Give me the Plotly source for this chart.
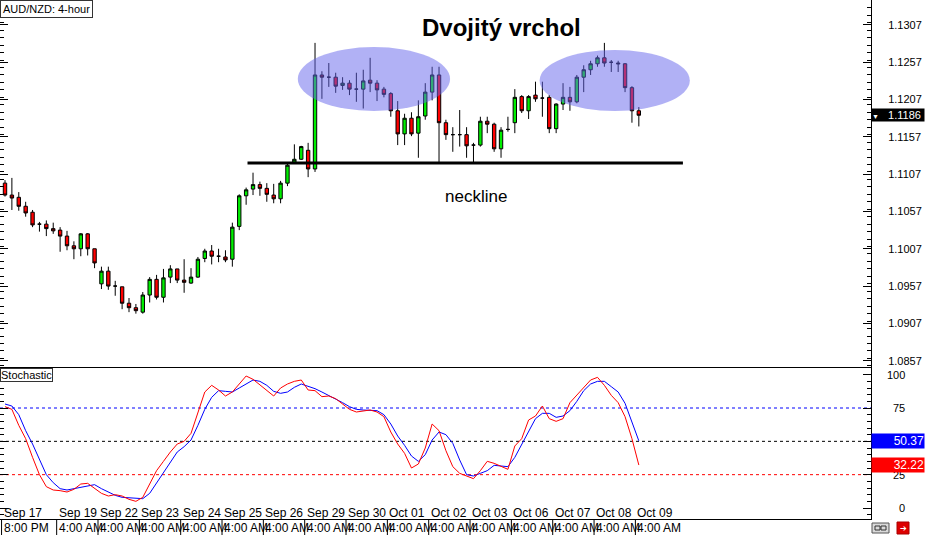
import plotly.graph_objects as go

# ---------------- data ----------------
idx = list(range(93))
open_ = [1.1095,1.1079,1.1076,1.1064,1.1056,1.1040,1.1040,1.1034,1.1032,1.1024,
         1.1011,1.1007,1.1027,1.1007,1.0960,1.0977,1.0957,1.0956,1.0934,1.0928,
         1.0922,1.0945,1.0966,1.0942,1.0969,1.0980,1.0965,1.0961,1.0969,1.0994,
         1.1004,1.0997,1.0996,1.0993,1.1037,1.1078,1.1087,1.1093,1.1088,1.1079,
         1.1074,1.1095,1.1123,1.1127,1.1139,1.1114,1.1240,1.1237,1.1237,1.1226,
         1.1229,1.1221,1.1221,1.1233,1.1229,1.1221,1.1215,1.1192,1.1161,1.1182,
         1.1162,1.1185,1.1217,1.1240,1.1176,1.1160,1.1160,1.1160,1.1146,1.1146,
         1.1178,1.1174,1.1141,1.1167,1.1176,1.1211,1.1192,1.1213,1.1209,1.1210,
         1.1168,1.1201,1.1210,1.1204,1.1237,1.1247,1.1255,1.1263,1.1257,1.1256,
         1.1255,1.1223,1.1192]
high = [1.1099,1.1102,1.1083,1.1070,1.1059,1.1043,1.1045,1.1042,1.1036,1.1031,
        1.1017,1.1028,1.1028,1.1007,1.0983,1.0983,1.0964,1.0956,1.0941,1.0933,
        1.0949,1.0969,1.0972,1.0980,1.0985,1.0980,1.0993,1.0981,1.0996,1.1007,
        1.1012,1.1007,1.1005,1.1042,1.1080,1.1089,1.1109,1.1097,1.1095,1.1094,
        1.1098,1.1121,1.1147,1.1145,1.1149,1.1283,1.1245,1.1256,1.1243,1.1237,
        1.1233,1.1243,1.1247,1.1263,1.1233,1.1224,1.1217,1.1205,1.1188,1.1190,
        1.1206,1.1229,1.1251,1.1251,1.1180,1.1170,1.1193,1.1170,1.1149,1.1184,
        1.1184,1.1176,1.1170,1.1184,1.1221,1.1213,1.1213,1.1231,1.1231,1.1213,
        1.1202,1.1229,1.1224,1.1240,1.1253,1.1259,1.1266,1.1283,1.1260,1.1259,
        1.1256,1.1225,1.1197]
low = [1.1077,1.1059,1.1058,1.1050,1.1036,1.1030,1.1024,1.1027,1.1003,1.1005,
       1.0993,1.0997,1.0998,1.0981,1.0953,1.0952,1.0944,1.0926,1.0922,1.0920,
       1.0920,1.0935,1.0939,1.0935,1.0961,1.0961,1.0948,1.0960,1.0968,1.0989,
       1.0986,1.0989,1.0989,1.0983,1.1032,1.1066,1.1079,1.1078,1.1070,1.1068,
       1.1068,1.1091,1.1122,1.1126,1.1103,1.1110,1.1208,1.1224,1.1216,1.1220,
       1.1213,1.1204,1.1195,1.1217,1.1205,1.1210,1.1184,1.1146,1.1146,1.1158,
       1.1129,1.1180,1.1206,1.1122,1.1153,1.1137,1.1144,1.1129,1.1122,1.1144,
       1.1162,1.1137,1.1129,1.1164,1.1162,1.1189,1.1181,1.1204,1.1184,1.1162,
       1.1162,1.1193,1.1192,1.1202,1.1217,1.1240,1.1251,1.1251,1.1244,1.1244,
       1.1217,1.1176,1.1171]
close = [1.1079,1.1075,1.1064,1.1055,1.1039,1.1040,1.1034,1.1031,1.1024,1.1011,
         1.1007,1.1027,1.1007,1.0988,1.0977,1.0957,1.0957,1.0934,1.0928,1.0924,
         1.0945,1.0966,1.0942,1.0968,1.0980,1.0965,1.0962,1.0969,1.0993,1.1004,
         1.0997,1.0997,1.0992,1.1036,1.1078,1.1086,1.1093,1.1088,1.1080,1.1074,
         1.1095,1.1119,1.1127,1.1144,1.1114,1.1240,1.1237,1.1237,1.1225,1.1229,
         1.1221,1.1221,1.1232,1.1229,1.1220,1.1214,1.1192,1.1161,1.1182,1.1161,
         1.1184,1.1217,1.1240,1.1176,1.1160,1.1160,1.1160,1.1145,1.1146,1.1178,
         1.1174,1.1141,1.1166,1.1167,1.1210,1.1192,1.1211,1.1208,1.1209,1.1168,
         1.1201,1.1210,1.1204,1.1237,1.1247,1.1255,1.1263,1.1256,1.1257,1.1255,
         1.1223,1.1192,1.1186]

stoch_k = [76,74,62,52,38,25,16,13.5,13,12,14,18,18.5,15,11,9,10,9,6.5,5,
           8,18,28,35,42,48,50,56,72,87,92,88.5,84,87,93,99,96.5,92.5,88.5,84,
           90,93,95,96,88.5,88,83.5,84,82,78,74,72,73,73.5,72,68.5,57,48,41,30,
           33,45,63,58,43,31,26,24,22,28,35,33.5,31,29,46.5,52,66,69,76.5,67,
           65,67,79,84.5,90,96,98,92,84.5,79,68.5,52,32.22]
stoch_d = [78,76.5,70,58,48,36,25,19,14.5,13.5,14.5,16,17,17.5,14.5,12,9.5,8,7.5,7,
           7,11,19,27,35,42,46,51,62,74,83,88,87.5,87,90,93,96,95,92,87.5,
           86,87,90.5,93,91.5,89.5,87,84.5,82,79,76,74,73.5,73.5,73,70,63,54,47,39,
           35,40,51,57,55,48.5,36,25,24,26,28,32,31.5,31,38,48,58,67,71,71,
           68,69,73,80,88,93,95,95,91,87,78.5,65,50.37]

label_idx = [0, 8, 14, 20, 26, 32, 38, 44, 50, 56, 62, 68, 74, 80, 86, 92]
date_labels = ["Sep 17", "Sep 19", "Sep 22", "Sep 23", "Sep 24", "Sep 25", "Sep 26",
               "Sep 29", "Sep 30", "Oct 01", "Oct 02", "Oct 03", "Oct 06", "Oct 07",
               "Oct 08", "Oct 09"]
time_labels = ["8:00 PM"] + ["4:00 AM"] * 15

stoch_levels = [75, 50, 25]
stoch_level_colors = ["#0000ff", "#000000", "#ff0000"]
stoch_axis_labels = [100, 75, 50, 25, 0]

neckline_level = 1.1122
last_price = close[-1]

# ---------------- geometry helpers ----------------
PLOT_W, PLOT_H = 871, 519
def px_x(x):
    return x / PLOT_W
def px_y(y):
    return (PLOT_H - y) / PLOT_H

FONT = "Liberation Sans, Arial, sans-serif"

fig = go.Figure()
fig.add_trace(go.Candlestick(
    x=idx, open=open_, high=high, low=low, close=close,
    increasing=dict(line=dict(color="black", width=1), fillcolor="#00ee00"),
    decreasing=dict(line=dict(color="black", width=1), fillcolor="#ff0000"),
    xaxis="x", yaxis="y", showlegend=False, hoverinfo="skip"))
fig.add_trace(go.Scatter(x=idx, y=stoch_d, mode="lines",
                         line=dict(color="#0000ff", width=1),
                         xaxis="x2", yaxis="y2", showlegend=False, hoverinfo="skip"))
fig.add_trace(go.Scatter(x=idx, y=stoch_k, mode="lines",
                         line=dict(color="#ff0000", width=1),
                         xaxis="x2", yaxis="y2", showlegend=False, hoverinfo="skip"))

xr = [-0.726, 125.7]
shapes = []
annotations = []

# stochastic levels
for lv, c in zip(stoch_levels, stoch_level_colors):
    shapes.append(dict(type="line", xref="paper", x0=0, x1=1, yref="y2", y0=lv, y1=lv,
                       line=dict(color=c, width=1, dash="3px,3px"), layer="below"))

# ellipses (highlighting the two tops)
ell_color = "rgb(100,100,235)"
shapes.append(dict(type="circle", xref="x", yref="y", x0=42.5, x1=64.6, y0=1.11917, y1=1.12775,
                   fillcolor=ell_color, opacity=0.5, line=dict(width=0), layer="above"))
shapes.append(dict(type="circle", xref="x", yref="y", x0=77.6, x1=99.4, y0=1.11917, y1=1.12735,
                   fillcolor=ell_color, opacity=0.5, line=dict(width=0), layer="above"))
# neckline
shapes.append(dict(type="line", xref="x", yref="y", x0=35.2, x1=98.4,
                   y0=neckline_level, y1=neckline_level,
                   line=dict(color="black", width=3), layer="above"))

# bottom time axis ticks and labels
for i, d, t in zip(label_idx, date_labels, time_labels):
    shapes.append(dict(type="line", xref="x", yref="paper", x0=i - 0.5, x1=i - 0.5,
                       y0=px_y(535), y1=px_y(519), line=dict(color="black", width=1)))
    annotations.append(dict(text=d, xref="x", yref="paper", x=i - 0.5, y=px_y(513),
                            xanchor="left", yanchor="middle", showarrow=False,
                            font=dict(family=FONT, size=12, color="black")))
    annotations.append(dict(text=t, xref="x", yref="paper", x=i - 0.5, y=px_y(528),
                            xanchor="left", yanchor="middle", showarrow=False,
                            font=dict(family=FONT, size=12, color="black")))

# stochastic axis labels
for v in stoch_axis_labels:
    annotations.append(dict(text=str(v), xref="paper", yref="y2", x=px_x(907), y=v,
                            xanchor="right", yanchor="middle", showarrow=False,
                            font=dict(family=FONT, size=11, color="black")))

# value boxes
annotations.append(dict(text="%.2f" % stoch_d[-1], xref="paper", yref="y2", x=1, y=stoch_d[-1],
                        xanchor="left", yanchor="middle", showarrow=False, align="right",
                        width=52, bgcolor="#0000ff", borderpad=0,
                        font=dict(family=FONT, size=12, color="white")))
annotations.append(dict(text="%.2f" % stoch_k[-1], xref="paper", yref="y2", x=1, y=stoch_k[-1],
                        xanchor="left", yanchor="middle", showarrow=False, align="right",
                        width=52, bgcolor="#ff0000", borderpad=0,
                        font=dict(family=FONT, size=12, color="white")))
annotations.append(dict(text="<span style='font-size:7px'>▼</span>   %.4f" % last_price,
                        xref="paper", yref="y", x=1, y=last_price,
                        xanchor="left", yanchor="middle", showarrow=False, align="left",
                        width=52, bgcolor="black", borderpad=0,
                        font=dict(family=FONT, size=11, color="white")))

# titles / labels
annotations.append(dict(text="Dvojitý vrchol", xref="paper", yref="paper",
                        x=px_x(501), y=px_y(27), xanchor="center", yanchor="middle",
                        showarrow=False, font=dict(family=FONT, size=24, color="black", weight="bold")))
annotations.append(dict(text="neckline", xref="paper", yref="paper",
                        x=px_x(475.5), y=px_y(196), xanchor="center", yanchor="middle",
                        showarrow=False, font=dict(family=FONT, size=17, color="black")))
annotations.append(dict(text="AUD/NZD: 4-hour", xref="paper", yref="paper", x=0, y=1,
                        xanchor="left", yanchor="top", showarrow=False, bgcolor="white",
                        bordercolor="#333333", borderwidth=1, borderpad=2,
                        font=dict(family=FONT, size=11, color="black")))
annotations.append(dict(text="Stochastic", xref="paper", yref="paper", x=0, y=px_y(368),
                        xanchor="left", yanchor="top", showarrow=False, bgcolor="white",
                        bordercolor="#333333", borderwidth=1, borderpad=0,
                        font=dict(family=FONT, size=11, color="black")))

# bottom-right icons
shapes.append(dict(type="rect", xref="paper", yref="paper", x0=px_x(872), x1=px_x(889),
                   y0=px_y(533), y1=px_y(523), fillcolor="#d9d9d9", line=dict(color="#555555", width=1)))
shapes.append(dict(type="rect", xref="paper", yref="paper", x0=px_x(875), x1=px_x(880),
                   y0=px_y(530), y1=px_y(526), fillcolor="#d9d9d9", line=dict(color="#333333", width=1)))
shapes.append(dict(type="rect", xref="paper", yref="paper", x0=px_x(881), x1=px_x(886),
                   y0=px_y(530), y1=px_y(526), fillcolor="#d9d9d9", line=dict(color="#333333", width=1)))
shapes.append(dict(type="rect", xref="paper", yref="paper", x0=px_x(897), x1=px_x(909),
                   y0=px_y(534), y1=px_y(522), fillcolor="#dd0000", line=dict(color="#aa0000", width=1)))
annotations.append(dict(text="➔", xref="paper", yref="paper", x=px_x(903), y=px_y(528),
                        xanchor="center", yanchor="middle", showarrow=False,
                        font=dict(family="DejaVu Sans", size=8, color="white")))

axis_common = dict(showgrid=False, zeroline=False, showline=True, linecolor="black", linewidth=1)

fig.update_layout(
    width=925, height=535,
    margin=dict(l=0, r=54, t=0, b=16),
    paper_bgcolor="white", plot_bgcolor="white",
    showlegend=False,
    xaxis=dict(domain=[0, 1], range=xr, anchor="y", showticklabels=False, ticks="",
               mirror=True, rangeslider=dict(visible=False), **axis_common),
    xaxis2=dict(domain=[0, 1], range=xr, anchor="y2", matches="x", showticklabels=False,
                ticks="", mirror=True, **axis_common),
    yaxis=dict(domain=[px_y(367), 1], range=[1.08485, 1.13405], side="right", anchor="x",
               tick0=1.0857, dtick=0.005, tickformat=".4f", ticks="inside", ticklen=8,
               tickcolor="black", mirror="ticks", ticklabelstandoff=14, automargin=False,
               minor=dict(dtick=0.001, ticks="inside", ticklen=4, tickcolor="black"),
               tickfont=dict(family=FONT, size=11, color="black"), **axis_common),
    yaxis2=dict(domain=[0, px_y(368)], range=[-8.25, 105], side="right", anchor="x2",
                tick0=0, dtick=25, ticks="inside", ticklen=8, tickcolor="black",
                mirror="ticks", showticklabels=False, automargin=False,
                minor=dict(dtick=5, ticks="inside", ticklen=4, tickcolor="black"),
                **axis_common),
    shapes=shapes,
    annotations=annotations,
)

fig.write_html("out.html", config={"displayModeBar": False},
               post_script="document.body.style.margin='0';document.body.style.overflow='hidden';")
